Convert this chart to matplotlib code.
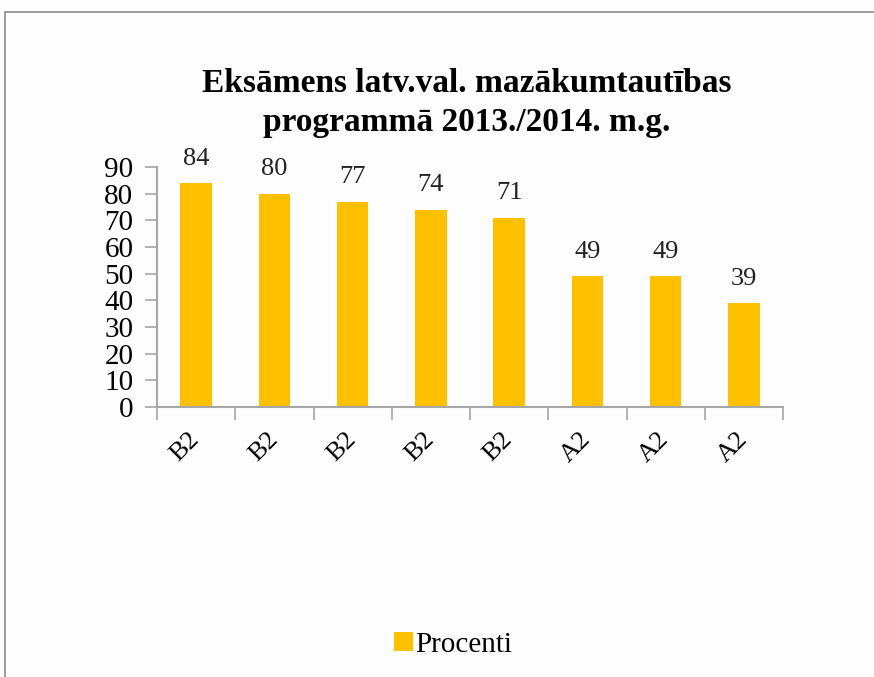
import numpy as np
import matplotlib; matplotlib.use("Agg")
import matplotlib.pyplot as plt
from matplotlib.patches import Rectangle

categories = ["B2", "B2", "B2", "B2", "B2", "A2", "A2", "A2"]
values = [84, 80, 77, 74, 71, 49, 49, 39]
yticks = list(range(0, 100, 10))
title = "Eksāmens latv.val. mazākumtautības\nprogrammā 2013./2014. m.g."
series_name = "Procenti"

plt.rcParams["font.family"] = ["Liberation Serif", "DejaVu Serif"]
BAR = "#FFC000"
AX = "#A6A6A6"

fig = plt.figure(figsize=(8.74, 6.77), dpi=100, facecolor="#FDFDFD")
# outer chart frame (top and left visible)
fig.patches.append(Rectangle((5/874, -0.1), 1.2, 1 - 12/677 + 0.1, transform=fig.transFigure,
                             fill=False, ec="#8C8C8C", lw=1.2))
ax = fig.add_axes([157/874, 1 - 407/677, (783 - 157)/874, (407 - 167)/677])
ax.set_facecolor("none")

x = np.arange(len(values))
ax.bar(x, values, width=0.4, color=BAR, label=series_name, zorder=2)
for xi, v in zip(x, values):
    ax.text(xi, v + 5, str(v), ha="center", va="bottom", fontsize=19, color="#222222")

ax.set_xlim(-0.5, len(values) - 0.5)
ax.set_ylim(0, 90)
ax.set_yticks(yticks)
ax.set_yticklabels([str(t) for t in yticks], fontsize=21)
ax.set_xticks(np.arange(len(values) + 1) - 0.5)
ax.set_xticklabels([])
ax.set_xticks(x, minor=True)
ax.set_xticklabels(categories, minor=True, rotation=45, ha="right", va="center",
                   rotation_mode="anchor", fontsize=19)
ax.tick_params(axis="x", which="minor", length=0, pad=21)
ax.tick_params(axis="both", which="major", length=9, color=AX, width=1.2)
ax.tick_params(axis="y", pad=8)
for s in ["top", "right"]:
    ax.spines[s].set_visible(False)
for s in ["left", "bottom"]:
    ax.spines[s].set_color(AX)
    ax.spines[s].set_linewidth(1.5)

fig.text(467/874, 1 - 103/677, title, ha="center", va="center", fontsize=24,
         fontweight="bold", linespacing=1.35)

fig.legend(loc="center", bbox_to_anchor=(453/874, 1 - 645/677), frameon=False,
           fontsize=21, handlelength=0.65, handleheight=0.65, handletextpad=0.1)

fig.savefig("out.png", dpi=100, facecolor=fig.get_facecolor())
print("saved")
